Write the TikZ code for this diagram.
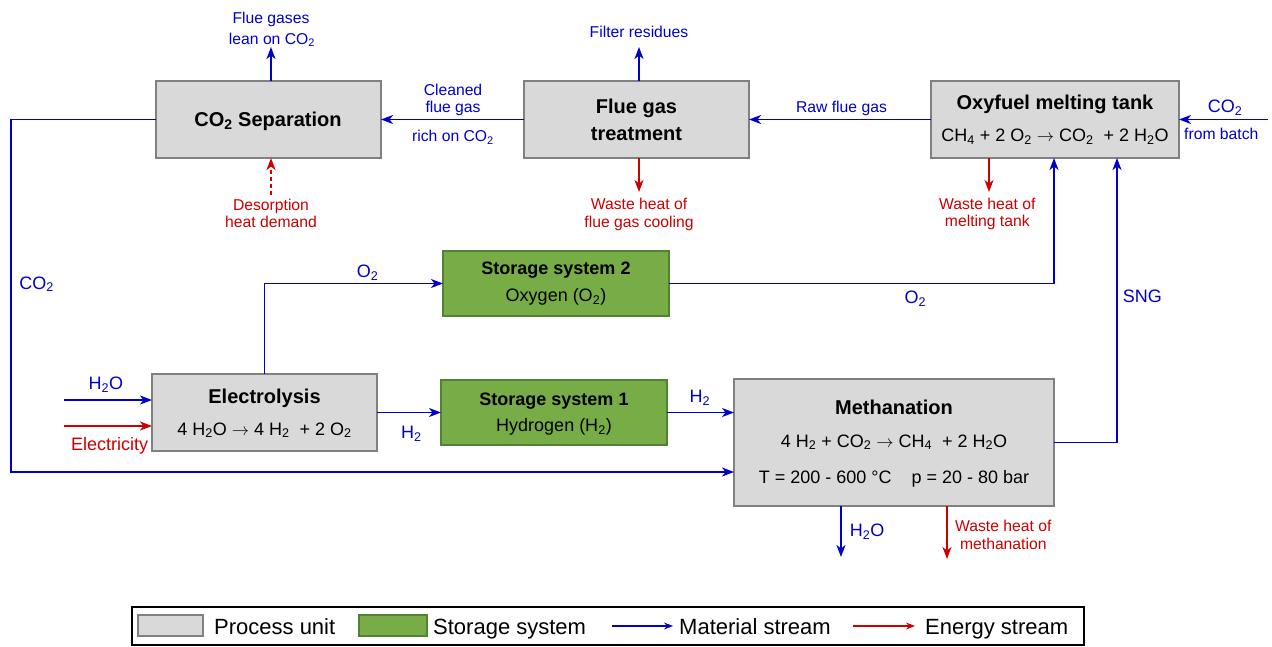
\documentclass[tikz,border=0pt]{standalone}
\usepackage{fontspec}
\setmainfont{Liberation Sans}
\usetikzlibrary{arrows.meta}
\definecolor{matC}{RGB}{0,0,205}
\definecolor{eneC}{RGB}{204,0,0}
\definecolor{procF}{RGB}{217,217,217}
\definecolor{procB}{RGB}{128,128,128}
\definecolor{storF}{RGB}{119,172,70}
\definecolor{storB}{RGB}{84,130,53}
\newcommand\sbs[1]{\textsubscript{#1}}
\newcommand\rarr{\ $\rightarrow$\ }
\begin{document}
\begin{tikzpicture}[x=1pt,y=-1pt,
  proc/.style={draw=procB, fill=procF, line width=2pt, inner sep=0pt, outer sep=0pt},
  stor/.style={draw=storB, fill=storF, line width=2pt, inner sep=0pt, outer sep=0pt},
  mat/.style={draw=matC, line width=1.9pt, -{Stealth[length=12pt,width=9pt,inset=3.5pt]}},
  ene/.style={draw=eneC, line width=1.9pt, -{Stealth[length=12pt,width=9pt,inset=3.5pt]}},
  lbl/.style={inner sep=0pt, anchor=base, text=matC, font=\fontsize{15.7}{18}\selectfont},
  elbl/.style={lbl, text=eneC},
  slbl/.style={inner sep=0pt, anchor=base west, text=matC, font=\fontsize{18}{21}\selectfont},
  ttl/.style={inner sep=0pt, anchor=base, font=\fontsize{20}{24}\selectfont\bfseries},
  sttl/.style={inner sep=0pt, anchor=base, font=\fontsize{18}{21}\selectfont\bfseries},
  eqn/.style={inner sep=0pt, anchor=base, font=\fontsize{18}{21}\selectfont},
  lgt/.style={inner sep=0pt, anchor=base west, font=\fontsize{22}{26}\selectfont}
]
\useasboundingbox (0,0) rectangle (1272,646);

% boxes
\node[proc, minimum width=225, minimum height=77] (sep) at (268.5,119.5) {};
\node[proc, minimum width=225, minimum height=77] (fgt) at (636.5,119.5) {};
\node[proc, minimum width=248, minimum height=77] (oxy) at (1055,119.5) {};
\node[stor, minimum width=226, minimum height=65] (st2) at (556,283.5) {};
\node[stor, minimum width=226, minimum height=65] (st1) at (554,412.5) {};
\node[proc, minimum width=225, minimum height=77] (elec) at (264.5,412.5) {};
\node[proc, minimum width=320, minimum height=127] (meth) at (894,442.5) {};

% box texts
\node[ttl] (sepT) at (268,126) {CO\sbs{2} Separation};
\node[ttl] (fgtT1) at (636.5,113) {Flue gas};
\node[ttl] (fgtT2) at (636.5,140) {treatment};
\node[ttl] (oxyT) at (1055,109.3) {Oxyfuel melting tank};
\node[eqn] (oxyE) at (1055,141.7) {CH\sbs{4} + 2 O\sbs{2}\rarr CO\sbs{2}\ \ + 2 H\sbs{2}O};
\node[sttl] (st2T) at (556,274) {Storage system 2};
\node[eqn] (st2S) at (556,301.7) {Oxygen (O\sbs{2})};
\node[sttl] (st1T) at (554,405.7) {Storage system 1};
\node[eqn] (st1S) at (554,431.7) {Hydrogen (H\sbs{2})};
\node[ttl] (elecT) at (264.5,403) {Electrolysis};
\node[eqn] (elecE) at (264.5,435) {4 H\sbs{2}O\rarr 4 H\sbs{2}\ \ + 2 O\sbs{2}};
\node[ttl] (methT) at (894,414) {Methanation};
\node[eqn] (methE) at (894,447) {4 H\sbs{2} + CO\sbs{2}\rarr CH\sbs{4}\ \ + 2 H\sbs{2}O};
\node[eqn] (methC) at (894,483) {T = 200 - 600 °C\hspace{20pt}p = 20 - 80 bar};

% free ends
\coordinate (fgOut) at (271,47);
\coordinate (filt) at (639,47);
\coordinate (fgWH) at (639,192);
\coordinate (desA) at (271,195);
\coordinate (batch) at (1268,119.5);
\coordinate (oxWH) at (989,192);
\coordinate (xO2) at (1054,0);
\coordinate (xSNG) at (1117,0);
\coordinate (cL) at (11,472);
\coordinate (h2oIn) at (64,400);
\coordinate (elIn) at (64,426);
\coordinate (mH2O) at (841,557);
\coordinate (mWH) at (947,559);

% connectors
\draw[mat] (fgOut |- sep.north) -- (fgOut);
\draw[mat] (fgt.west) -- (sep.east);
\draw[mat] (filt |- fgt.north) -- (filt);
\draw[ene] (fgWH |- fgt.south) -- (fgWH);
\draw[mat] (oxy.west) -- (fgt.east);
\draw[mat] (batch) -- (oxy.east);
\draw[ene] (oxWH |- oxy.south) -- (oxWH);
\draw[ene, dash pattern=on 4pt off 3pt] (desA) -- (desA |- sep.south);
\draw[mat] (sep.west) -| (cL) -- (meth.west |- cL);
\draw[mat] (st2.east) -| (oxy.south -| xO2);
\draw[mat] (meth.east) -| (oxy.south -| xSNG);
\draw[mat] (elec.north) |- (st2.west);
\draw[mat] (elec.east) -- (st1.west);
\draw[mat] (st1.east) -- (meth.west |- st1.east);
\draw[mat] (h2oIn) -- (elec.west |- h2oIn);
\draw[ene] (elIn) -- (elec.west |- elIn);
\draw[mat] (mH2O |- meth.south) -- (mH2O);
\draw[ene] (mWH |- meth.south) -- (mWH);

% labels
\node[lbl] (l1a) at (271,23.3) {Flue gases};
\node[lbl] (l1b) at (272,44) {lean on CO\sbs{2}};
\node[lbl] (l2a) at (453,95.5) {Cleaned};
\node[lbl] (l2b) at (453,112.7) {flue gas};
\node[lbl] (l2c) at (453,141.7) {rich on CO\sbs{2}};
\node[lbl] (l3) at (639,37.7) {Filter residues};
\node[lbl] (l4) at (841.5,112.7) {Raw flue gas};
\node[elbl] (l5a) at (639,209.3) {Waste heat of};
\node[elbl] (l5b) at (639,227) {flue gas cooling};
\node[elbl] (l6a) at (271,210) {Desorption};
\node[elbl] (l6b) at (271,227.7) {heat demand};
\node[elbl] (l7a) at (987.3,209) {Waste heat of};
\node[elbl] (l7b) at (987.3,226.7) {melting tank};
\node[elbl] (l8a) at (1003.3,531.7) {Waste heat of};
\node[elbl] (l8b) at (1003.3,549.3) {methanation};
\node[slbl, anchor=base] (l9a) at (1225,112.7) {CO\sbs{2}};
\node[lbl] (l9b) at (1221.3,139) {from batch};
\node[slbl] (l10) at (849.7,536.7) {H\sbs{2}O};
\node[slbl] (l11) at (1122.7,302.3) {SNG};
\node[slbl] (l12) at (904.3,303.3) {O\sbs{2}};
\node[slbl] (l13) at (356.7,277.3) {O\sbs{2}};
\node[slbl] (l14) at (19.3,289) {CO\sbs{2}};
\node[slbl] (l15) at (88.3,389.3) {H\sbs{2}O};
\node[slbl, text=eneC] (l16) at (71,450) {Electricity};
\node[slbl] (l17) at (401,438.3) {H\sbs{2}};
\node[slbl] (l18) at (689.3,402.3) {H\sbs{2}};

% legend
\node[draw=black, line width=1.3pt, minimum width=952, minimum height=38, inner sep=0pt] (leg) at (608,626) {};
\node[proc, line width=1.2pt, minimum width=65, minimum height=21] (lgP) at (170.5,625.5) {};
\node[lgt] (lgPt) at (214,634.3) {Process unit};
\node[stor, line width=1.2pt, minimum width=68, minimum height=21] (lgS) at (393,625.5) {};
\node[lgt] (lgSt) at (433,634.3) {Storage system};
\coordinate (lgMa) at (612,626);
\coordinate (lgMb) at (673,626);
\draw[mat, line width=1.2pt, -{Stealth[length=9pt,width=7pt,inset=3pt]}] (lgMa) -- (lgMb);
\node[lgt] (lgMt) at (679,634.3) {Material stream};
\coordinate (lgEa) at (853,626);
\coordinate (lgEb) at (915,626);
\draw[ene, line width=1.2pt, -{Stealth[length=9pt,width=7pt,inset=3pt]}] (lgEa) -- (lgEb);
\node[lgt] (lgEt) at (925,634.3) {Energy stream};
\end{tikzpicture}
\end{document}
